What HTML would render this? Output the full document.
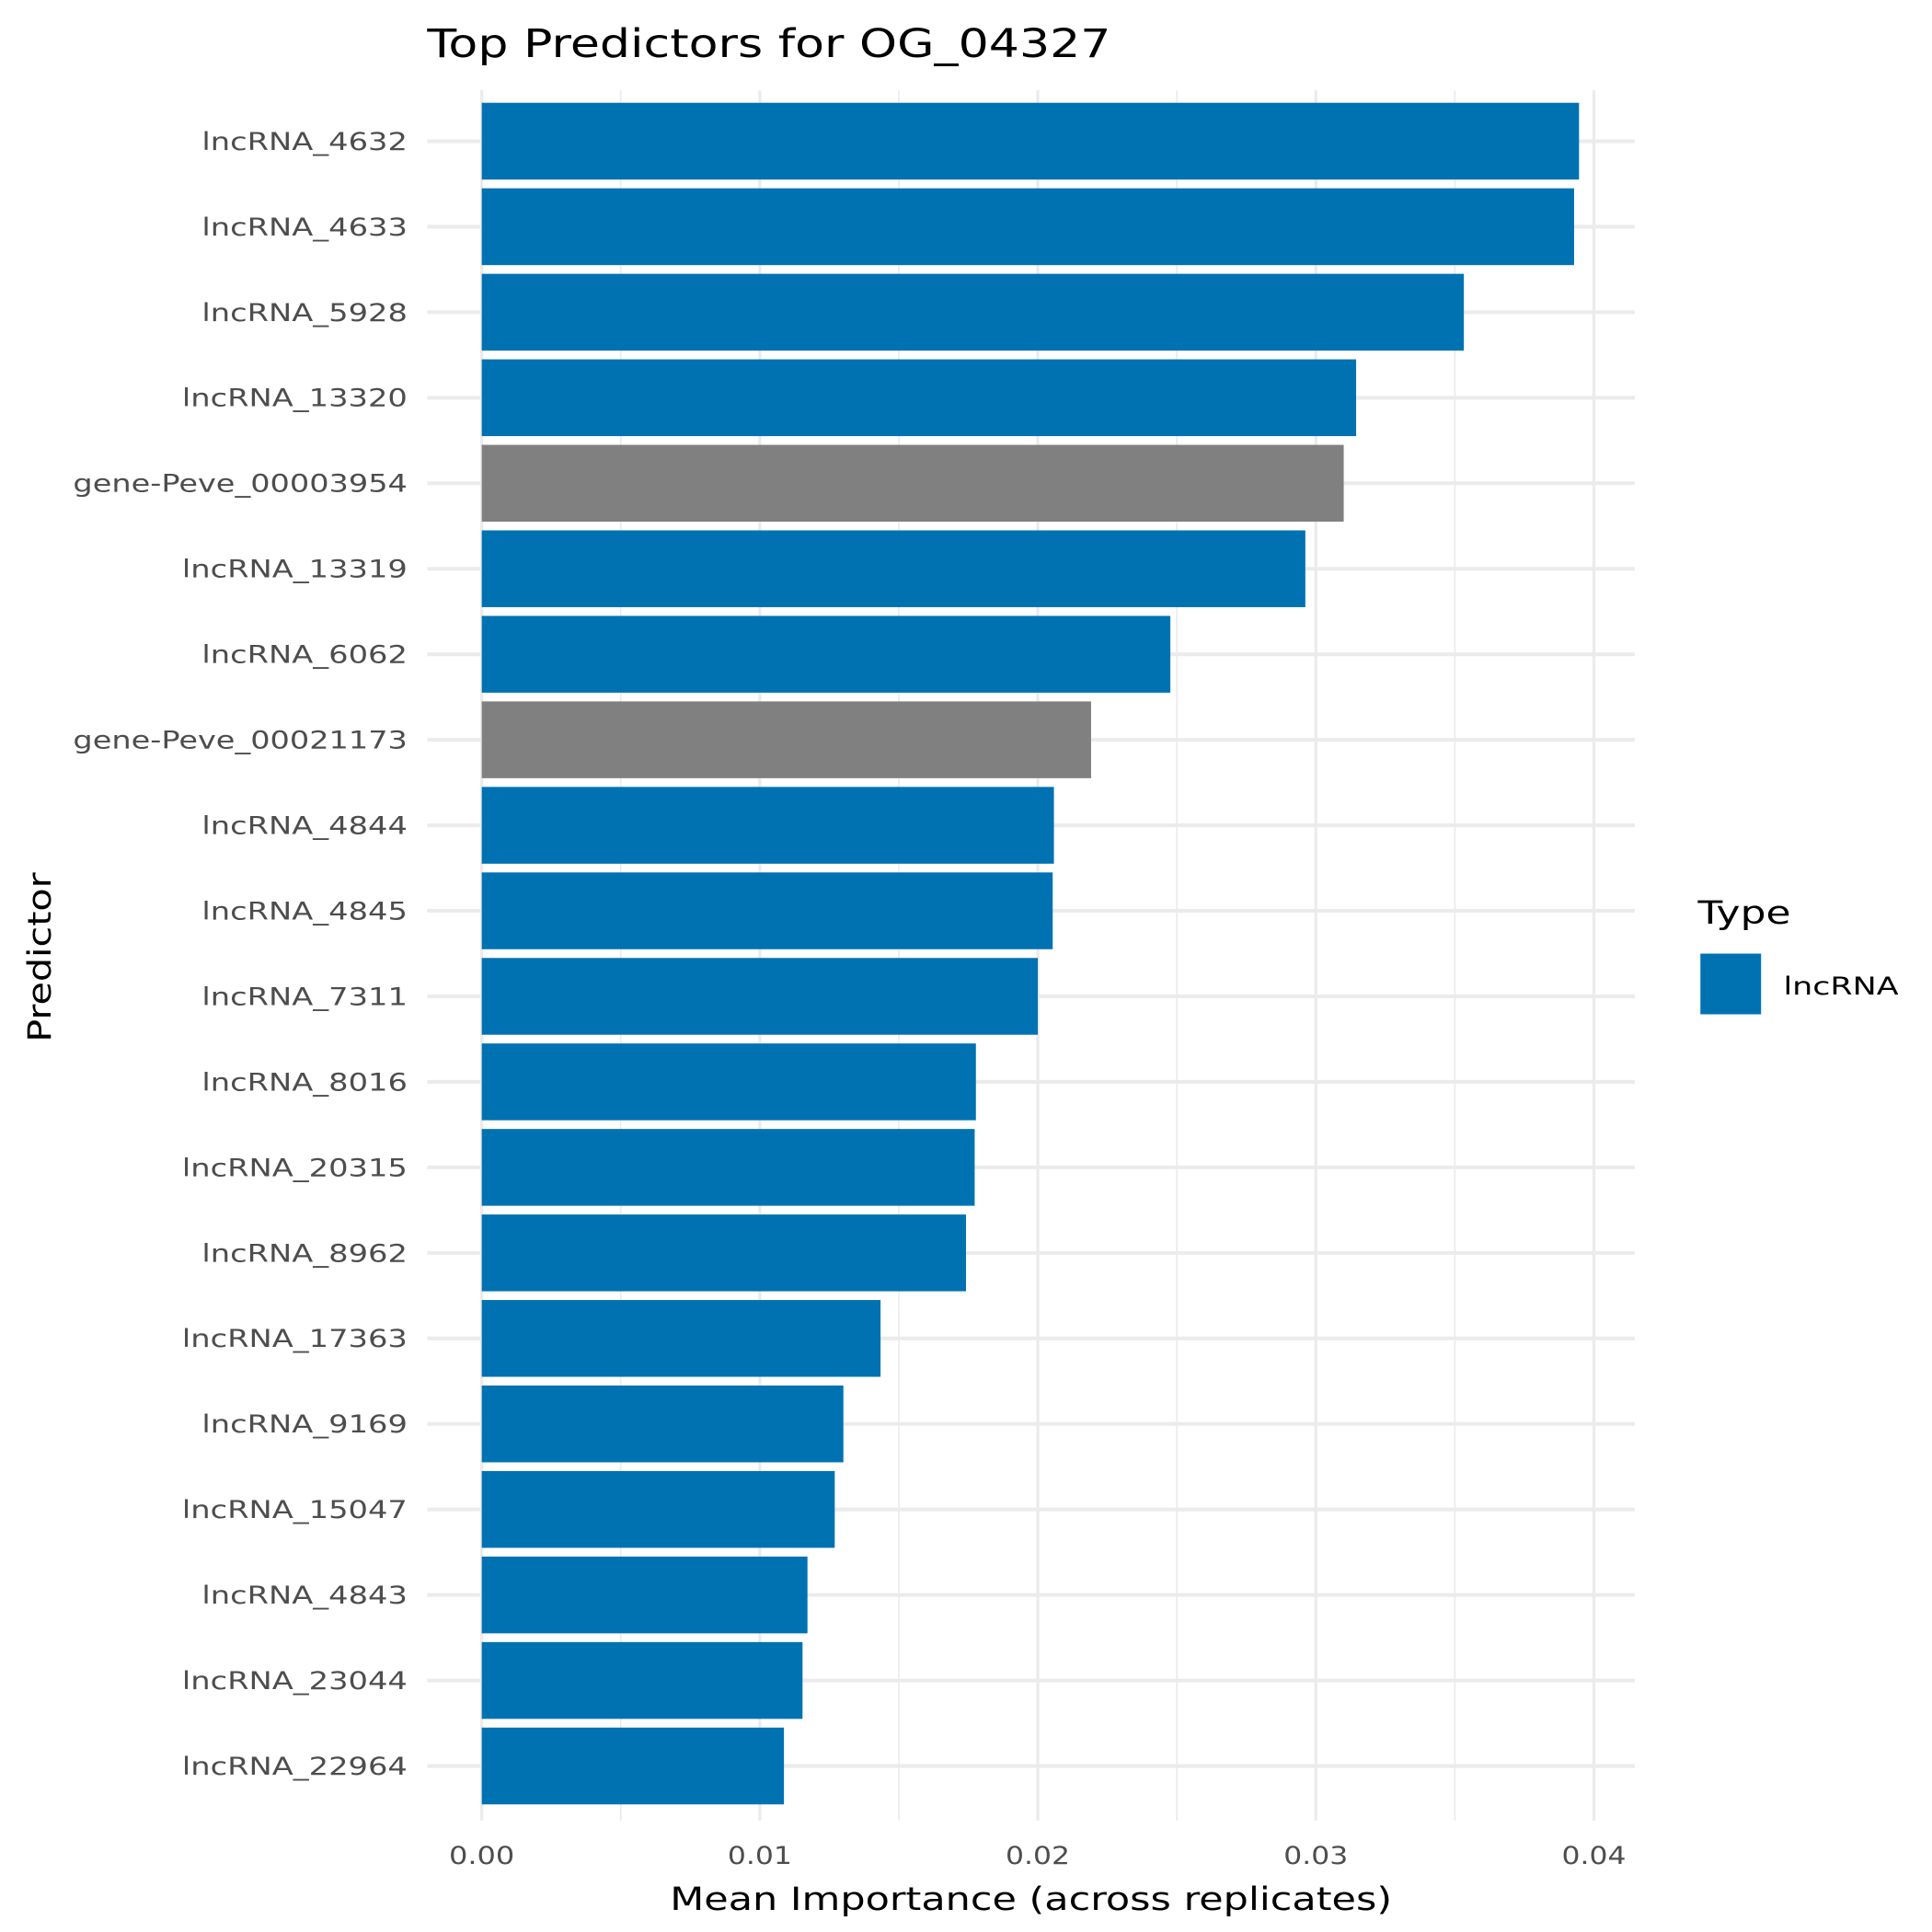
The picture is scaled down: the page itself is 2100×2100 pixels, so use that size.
<!DOCTYPE html>
<html><head><style>html,body{margin:0;padding:0;background:#fff;}svg{display:block;}</style></head>
<body>
<svg width="2100" height="2100" viewBox="0 0 1560 1560" xmlns="http://www.w3.org/2000/svg" font-family="'DejaVu Sans', 'Liberation Sans', sans-serif">
<rect width="1560" height="1560" fill="#fff"/>
<g stroke="#ebebeb">
<line x1="501.25" y1="73" x2="501.25" y2="1470" stroke-width="1.2"/>
<line x1="725.75" y1="73" x2="725.75" y2="1470" stroke-width="1.2"/>
<line x1="950.25" y1="73" x2="950.25" y2="1470" stroke-width="1.2"/>
<line x1="1174.75" y1="73" x2="1174.75" y2="1470" stroke-width="1.2"/>
<line x1="389" y1="73" x2="389" y2="1470" stroke-width="2.4"/>
<line x1="613.5" y1="73" x2="613.5" y2="1470" stroke-width="2.4"/>
<line x1="838" y1="73" x2="838" y2="1470" stroke-width="2.4"/>
<line x1="1062.5" y1="73" x2="1062.5" y2="1470" stroke-width="2.4"/>
<line x1="1287" y1="73" x2="1287" y2="1470" stroke-width="2.4"/>
</g>
<g stroke="#ebebeb" stroke-width="3">
<line x1="345" x2="1320" y1="114" y2="114"/>
<line x1="345" x2="1320" y1="183.05" y2="183.05"/>
<line x1="345" x2="1320" y1="252.1" y2="252.1"/>
<line x1="345" x2="1320" y1="321.15" y2="321.15"/>
<line x1="345" x2="1320" y1="390.2" y2="390.2"/>
<line x1="345" x2="1320" y1="459.25" y2="459.25"/>
<line x1="345" x2="1320" y1="528.3" y2="528.3"/>
<line x1="345" x2="1320" y1="597.35" y2="597.35"/>
<line x1="345" x2="1320" y1="666.4" y2="666.4"/>
<line x1="345" x2="1320" y1="735.45" y2="735.45"/>
<line x1="345" x2="1320" y1="804.5" y2="804.5"/>
<line x1="345" x2="1320" y1="873.55" y2="873.55"/>
<line x1="345" x2="1320" y1="942.6" y2="942.6"/>
<line x1="345" x2="1320" y1="1011.65" y2="1011.65"/>
<line x1="345" x2="1320" y1="1080.7" y2="1080.7"/>
<line x1="345" x2="1320" y1="1149.75" y2="1149.75"/>
<line x1="345" x2="1320" y1="1218.8" y2="1218.8"/>
<line x1="345" x2="1320" y1="1287.85" y2="1287.85"/>
<line x1="345" x2="1320" y1="1356.9" y2="1356.9"/>
<line x1="345" x2="1320" y1="1425.95" y2="1425.95"/>
</g>
<g fill="#0072b2">
<rect x="389" y="83" width="886" height="62"/>
<rect x="389" y="152.05" width="882" height="62"/>
<rect x="389" y="221.1" width="793" height="62"/>
<rect x="389" y="290.15" width="706" height="62"/>
<rect x="389" y="359.2" width="696" height="62" fill="#808080"/>
<rect x="389" y="428.25" width="665" height="62"/>
<rect x="389" y="497.3" width="556" height="62"/>
<rect x="389" y="566.35" width="492" height="62" fill="#808080"/>
<rect x="389" y="635.4" width="462" height="62"/>
<rect x="389" y="704.45" width="461" height="62"/>
<rect x="389" y="773.5" width="449" height="62"/>
<rect x="389" y="842.55" width="399" height="62"/>
<rect x="389" y="911.6" width="398" height="62"/>
<rect x="389" y="980.65" width="391" height="62"/>
<rect x="389" y="1049.7" width="322" height="62"/>
<rect x="389" y="1118.75" width="292" height="62"/>
<rect x="389" y="1187.8" width="285" height="62"/>
<rect x="389" y="1256.85" width="263" height="62"/>
<rect x="389" y="1325.9" width="259" height="62"/>
<rect x="389" y="1394.95" width="244" height="62"/>
</g>
<g font-size="20" fill="#4d4d4d" text-anchor="end" lengthAdjust="spacingAndGlyphs">
<text x="329" y="121" textLength="166" lengthAdjust="spacingAndGlyphs">lncRNA_4632</text>
<text x="329" y="190.05" textLength="166" lengthAdjust="spacingAndGlyphs">lncRNA_4633</text>
<text x="329" y="259.1" textLength="166" lengthAdjust="spacingAndGlyphs">lncRNA_5928</text>
<text x="329" y="328.15" textLength="182" lengthAdjust="spacingAndGlyphs">lncRNA_13320</text>
<text x="329" y="397.2" textLength="270" lengthAdjust="spacingAndGlyphs">gene-Peve_00003954</text>
<text x="329" y="466.25" textLength="182" lengthAdjust="spacingAndGlyphs">lncRNA_13319</text>
<text x="329" y="535.3" textLength="166" lengthAdjust="spacingAndGlyphs">lncRNA_6062</text>
<text x="329" y="604.35" textLength="270" lengthAdjust="spacingAndGlyphs">gene-Peve_00021173</text>
<text x="329" y="673.4" textLength="166" lengthAdjust="spacingAndGlyphs">lncRNA_4844</text>
<text x="329" y="742.45" textLength="166" lengthAdjust="spacingAndGlyphs">lncRNA_4845</text>
<text x="329" y="811.5" textLength="166" lengthAdjust="spacingAndGlyphs">lncRNA_7311</text>
<text x="329" y="880.55" textLength="166" lengthAdjust="spacingAndGlyphs">lncRNA_8016</text>
<text x="329" y="949.6" textLength="182" lengthAdjust="spacingAndGlyphs">lncRNA_20315</text>
<text x="329" y="1018.65" textLength="166" lengthAdjust="spacingAndGlyphs">lncRNA_8962</text>
<text x="329" y="1087.7" textLength="182" lengthAdjust="spacingAndGlyphs">lncRNA_17363</text>
<text x="329" y="1156.75" textLength="166" lengthAdjust="spacingAndGlyphs">lncRNA_9169</text>
<text x="329" y="1225.8" textLength="182" lengthAdjust="spacingAndGlyphs">lncRNA_15047</text>
<text x="329" y="1294.85" textLength="166" lengthAdjust="spacingAndGlyphs">lncRNA_4843</text>
<text x="329" y="1363.9" textLength="182" lengthAdjust="spacingAndGlyphs">lncRNA_23044</text>
<text x="329" y="1432.95" textLength="182" lengthAdjust="spacingAndGlyphs">lncRNA_22964</text>
</g>
<text x="345" y="46" font-size="32" fill="#000" textLength="552" lengthAdjust="spacingAndGlyphs">Top Predictors for OG_04327</text>
<g font-size="20" fill="#4d4d4d" text-anchor="middle">
<text x="389" y="1505" textLength="53" lengthAdjust="spacingAndGlyphs">0.00</text>
<text x="613.5" y="1505" textLength="52" lengthAdjust="spacingAndGlyphs">0.01</text>
<text x="838" y="1505" textLength="52" lengthAdjust="spacingAndGlyphs">0.02</text>
<text x="1062.5" y="1505" textLength="52" lengthAdjust="spacingAndGlyphs">0.03</text>
<text x="1287" y="1505" textLength="52" lengthAdjust="spacingAndGlyphs">0.04</text>
</g>
<text x="832.5" y="1542" font-size="26" text-anchor="middle" fill="#000" textLength="583" lengthAdjust="spacingAndGlyphs">Mean Importance (across replicates)</text>
<text transform="translate(41,773) rotate(-90)" font-size="26" text-anchor="middle" fill="#000" textLength="137" lengthAdjust="spacingAndGlyphs">Predictor</text>
<text x="1371" y="746" font-size="26" fill="#000" textLength="75" lengthAdjust="spacingAndGlyphs">Type</text>
<rect x="1373" y="770" width="49" height="49" fill="#0072b2"/>
<text x="1440" y="803" font-size="20" fill="#000" textLength="93" lengthAdjust="spacingAndGlyphs">lncRNA</text>
</svg>
</body></html>
